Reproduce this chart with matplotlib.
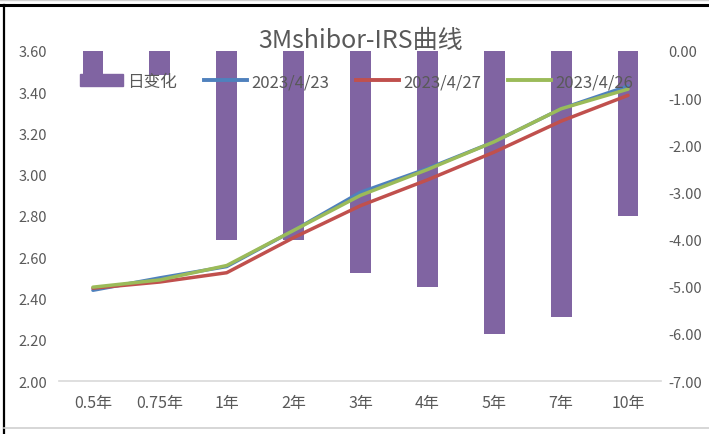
import numpy as np
import matplotlib.pyplot as plt
from matplotlib.lines import Line2D
from matplotlib.patches import Patch

plt.rcParams['font.family'] = ['Noto Sans CJK SC', 'DejaVu Sans']

# data
tenors = ['0.5年', '0.75年', '1年', '2年', '3年', '4年', '5年', '7年', '10年']
day_change = [-0.5, -0.5, -4.0, -4.0, -4.7, -5.0, -6.0, -5.65, -3.5]
irs_0423 = [2.44, 2.50, 2.555, 2.73, 2.915, 3.03, 3.16, 3.32, 3.43]
irs_0427 = [2.45, 2.48, 2.525, 2.695, 2.85, 2.975, 3.11, 3.26, 3.385]
irs_0426 = [2.455, 2.49, 2.56, 2.73, 2.90, 3.025, 3.16, 3.32, 3.415]
left_ticks = [2.0, 2.2, 2.4, 2.6, 2.8, 3.0, 3.2, 3.4, 3.6]
right_ticks = [0, -1, -2, -3, -4, -5, -6, -7]

purple = '#8064A2'
blue = '#4F81BD'
red = '#C0504D'
green = '#9BBB59'
gray = '#595959'

fig = plt.figure(figsize=(7.09, 4.35), dpi=100)
ax = fig.add_axes([0.0839, 0.1218, 0.8491, 0.7587])
ax2 = ax.twinx()

x = np.arange(len(tenors))

# bars on the secondary axis, lines on top
ax2.bar(x, day_change, width=0.31, color=purple, zorder=2)
ax2.set_ylim(-7, 0)
ax2.set_yticks(right_ticks)
ax2.set_yticklabels([f'{v:.2f}' for v in right_ticks])

ax.set_zorder(ax2.get_zorder() + 1)
ax.patch.set_visible(False)
ax.plot(x, irs_0423, color=blue, lw=2.5, solid_capstyle='round')
ax.plot(x, irs_0427, color=red, lw=2.5, solid_capstyle='round')
ax.plot(x, irs_0426, color=green, lw=2.5, solid_capstyle='round')
ax.set_ylim(2.0, 3.6)
ax.set_yticks(left_ticks)
ax.set_yticklabels([f'{v:.2f}' for v in left_ticks])
ax.set_xlim(-0.5, len(tenors) - 0.5)
ax.set_xticks(x)
ax.set_xticklabels(tenors)

for a in (ax, ax2):
    for s in a.spines.values():
        s.set_visible(False)
    a.tick_params(length=0, labelsize=10.5, labelcolor=gray)
ax.spines['bottom'].set_visible(True)
ax.spines['bottom'].set_color('#D9D9D9')
ax.spines['bottom'].set_linewidth(1.2)
ax.tick_params(axis='y', pad=9)
ax.tick_params(axis='x', pad=9, labelsize=11.5)
ax2.tick_params(axis='y', pad=5)

fig.text(0.509, 0.905, '3Mshibor-IRS曲线', ha='center', va='center',
         fontsize=18, color=gray)

handles = [Patch(color=purple),
           Line2D([], [], color=blue, lw=2.8),
           Line2D([], [], color=red, lw=2.8),
           Line2D([], [], color=green, lw=2.8)]
labels = ['日变化', '2023/4/23', '2023/4/27', '2023/4/26']
fig.legend(handles, labels, loc='center', bbox_to_anchor=(0.503, 0.81),
           ncol=4, frameon=False, fontsize=12, labelcolor=gray,
           handlelength=2.6, handleheight=0.75, handletextpad=0.25,
           columnspacing=1.6)

# outer frame of the screenshot
fig.add_artist(Line2D([0, 1], [0.986, 0.986], color='black', lw=2.2))
fig.add_artist(Line2D([0, 1], [0.997, 0.997], color='#D0D0D0', lw=1))
fig.add_artist(Line2D([0.0056, 0.0056], [0.0, 0.986], color='black', lw=1.6))
fig.add_artist(Line2D([0.0056, 1], [0.013, 0.013], color='#D0D0D0', lw=1.2))

fig.savefig('out.png', dpi=100)
